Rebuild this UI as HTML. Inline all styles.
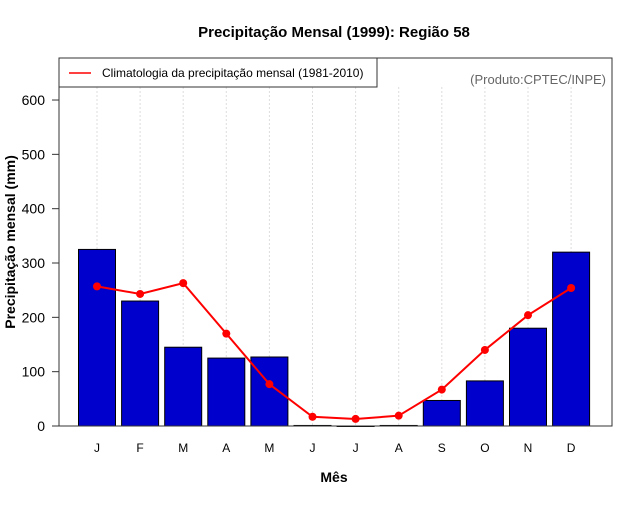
<!DOCTYPE html>
<html><head><meta charset="utf-8"><style>
body{margin:0;background:#fff;}
svg text{font-family:"Liberation Sans",sans-serif;}
</style></head><body>
<svg id="chart" width="640" height="500" xmlns="http://www.w3.org/2000/svg">
<rect width="640" height="500" fill="#fff"/>
<text x="334" y="37" text-anchor="middle" font-size="15" font-weight="bold">Precipitação Mensal (1999): Região 58</text>
<text x="334" y="482" text-anchor="middle" font-size="14" font-weight="bold">Mês</text>
<text transform="translate(15,242) rotate(-90)" text-anchor="middle" font-size="14" font-weight="bold">Precipitação mensal (mm)</text>
<g id="grid"></g><g id="bars"></g><g id="line"></g><g id="axes"></g>
<rect x="59" y="58" width="553" height="368" fill="none" stroke="#333" stroke-width="1"/>
<g>
<rect x="59" y="58" width="318" height="29" fill="#fff" stroke="#333" stroke-width="1"/>
<line x1="69" y1="73" x2="91" y2="73" stroke="#f00" stroke-width="1.5"/>
<text x="102" y="77" font-size="12">Climatologia da precipitação mensal (1981-2010)</text>
</g>
<text x="606" y="84" text-anchor="end" font-size="13" fill="#666">(Produto:CPTEC/INPE)</text>
</svg>
<script>
const months=["J","F","M","A","M","J","J","A","S","O","N","D"];
const precip=[325,230,145,125,127,1,0,1,47,83,180,320];
const clim=[257,243,263,170,77,17,13,19,67,140,204,254];
const yTicks=[0,100,200,300,400,500,600];
const NS="http://www.w3.org/2000/svg";
const xS=i=>97+i*43.1;
const yS=v=>426-v*0.5433;
function mk(t,a,p){const e=document.createElementNS(NS,t);for(const k in a)e.setAttribute(k,a[k]);document.getElementById(p).appendChild(e);return e;}
months.forEach((m,i)=>{
  const g=mk("line",{x1:xS(i),x2:xS(i),y1:87,y2:426,stroke:"#ddd","stroke-dasharray":"2,2"},"grid");
  
  
  const b=mk("rect",{x:xS(i)-18.5,y:yS(precip[i]),width:37,height:Math.max(426-yS(precip[i]),0.5),fill:"#0000cd",stroke:"#000","stroke-width":1},"bars");
  
  
  const t=mk("text",{x:xS(i),y:452,"text-anchor":"middle","font-size":12},"axes");
  t.textContent=m;
  
  
});
const pl=mk("polyline",{points:clim.map((v,i)=>xS(i)+","+yS(v)).join(" "),fill:"none",stroke:"#f00","stroke-width":2},"line");


clim.forEach((v,i)=>{
  const c=mk("circle",{cx:xS(i),cy:yS(v),r:4,fill:"#f00"},"line");
  
  
});
yTicks.forEach(v=>{
  const l=mk("line",{x1:52,x2:59,y1:yS(v),y2:yS(v),stroke:"#333"},"axes");
  
  
  const t=mk("text",{x:45,y:yS(v)+5,"text-anchor":"end","font-size":14},"axes");
  t.textContent=v;
  
  
});
</script>
</body></html>
